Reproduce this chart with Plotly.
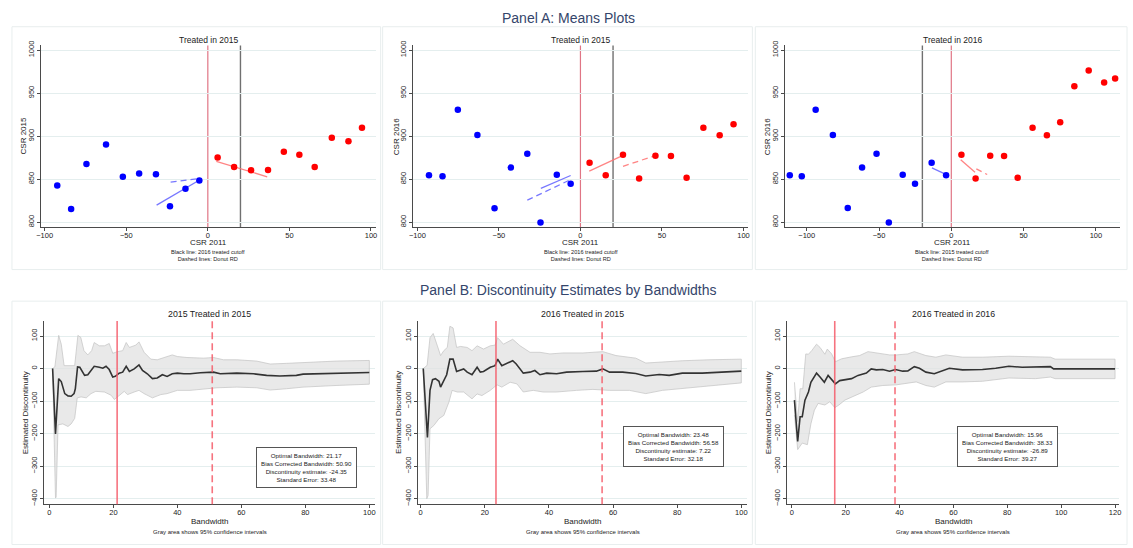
import plotly.graph_objects as go

W, H = 1133, 548

# ---------------- Panel A data ----------------
# A1: Treated in 2015, outcome CSR 2015
a1_blue_x = [-92.3, -83.8, -74.4, -62.4, -52.1, -42.1, -31.8, -23.2, -13.7, -5.2]
a1_blue_y = [842.8, 815.3, 867.7, 890.2, 852.8, 856.6, 855.8, 818.7, 839.0, 848.6]
a1_red_x = [6.0, 16.1, 26.5, 36.9, 46.6, 56.1, 65.5, 76.0, 86.2, 94.5]
a1_red_y = [875.3, 864.2, 860.4, 860.8, 881.8, 878.4, 864.2, 898.3, 894.1, 909.8]
a1_fit_blue_x = [-31.4, -5.6]
a1_fit_blue_y = [819.9, 848.5]
a1_donut_blue_x = [-22.8, -5.6]
a1_donut_blue_y = [846.7, 850.8]
a1_fit_red_x = [5.2, 36.4]
a1_fit_red_y = [870.7, 852.8]
a1_cut_other = 20

# A2: Treated in 2015, outcome CSR 2016
a2_blue_x = [-92.9, -84.6, -75.2, -63.2, -52.7, -42.7, -32.6, -24.5, -14.5, -6.0]
a2_blue_y = [854.7, 853.5, 930.8, 901.3, 816.1, 863.5, 879.5, 799.6, 855.1, 844.7]
a2_red_x = [5.6, 15.5, 26.1, 36.0, 46.0, 55.5, 65.1, 75.4, 85.4, 93.9]
a2_red_y = [869.2, 854.7, 878.4, 850.9, 877.2, 876.9, 851.6, 909.8, 901.0, 914.0]
a2_fit_blue_x = [-24.3, -6.0]
a2_fit_blue_y = [839.4, 854.3]
a2_donut_blue_x = [-32.6, -7.2]
a2_donut_blue_y = [825.6, 848.5]
a2_fit_red_x = [5.4, 26.1]
a2_fit_red_y = [859.3, 877.6]
a2_donut_red_x = [26.1, 46.2]
a2_donut_red_y = [865.0, 877.6]
a2_cut_other = 20

# A3: Treated in 2016, outcome CSR 2016
a3_blue_x = [-111.7, -103.4, -93.8, -81.9, -71.6, -61.7, -51.7, -43.2, -33.6, -25.1, -13.6, -3.6]
a3_blue_y = [854.7, 853.5, 930.8, 901.3, 816.4, 863.5, 879.5, 799.6, 855.1, 844.7, 869.2, 854.7]
a3_red_x = [7.0, 16.8, 26.9, 36.5, 45.9, 56.2, 66.1, 75.3, 85.1, 95.0, 105.7, 113.3]
a3_red_y = [878.4, 850.9, 877.2, 876.9, 851.6, 909.8, 901.0, 916.3, 957.9, 976.3, 962.5, 967.1]
a3_fit_blue_x = [-13.4, -3.4]
a3_fit_blue_y = [863.1, 855.4]
a3_fit_red_x = [6.5, 16.4]
a3_fit_red_y = [872.6, 858.2]
a3_donut_red_x = [17.3, 24.8]
a3_donut_red_y = [862.0, 855.4]
a3_cut_other = -20

a_xticks = [-100, -50, 0, 50, 100]
a_yticks = [800, 850, 900, 950, 1000]

# ---------------- Panel B data ----------------
b1_est_x = [1, 1.9, 2.9, 3.7, 4.8, 5.8, 6.8, 7.7, 8.1, 8.8, 9.5, 10.3, 11, 12, 13.2, 14, 15.6, 16.7, 17.7, 18.7,
            19.8, 20.6, 21.8, 22.9, 24, 25, 26.5, 28, 29.1, 30.6, 32.2, 33.7, 35.3, 36.8, 38.4, 40, 42, 44, 47.2,
            51.3, 53.4, 58.6, 63.8, 67.9, 72, 77.2, 79.3, 84.5, 89.6, 94.8, 100]
b1_est_y = [0, -201, -31, -40, -77, -84, -85, -77, -62, 5, 4, -11, -21, -19, -4, 7, 4, 1, 7, -3,
            -26, -24, -14, -11, 7, -9, -1, 11, -6, -16, -31, -29, -19, -24, -16, -14, -16, -16, -13,
            -11, -16, -14, -16, -21, -23, -21, -17, -16, -15, -13, -12]
b1_up_x = [1, 1.7, 2.9, 3.7, 4.6, 5.8, 7.9, 8.9, 9.8, 10.8, 12, 13.2, 14, 15.6, 17.2, 18.7, 19.8, 21.3, 22.9,
           24, 25, 27, 28, 29.6, 31.7, 33.7, 35.8, 38.4, 40, 43, 48.2, 51.3, 54.4, 58.6, 64.8, 69, 74.1, 79.3,
           84.5, 89.6, 100]
b1_up_y = [0, 5, 102, 75, 9, 9, 9, 102, 96, 55, 42, 55, 80, 70, 70, 77, 47, 52, 55,
           80, 65, 72, 82, 50, 29, 27, 34, 42, 37, 34, 32, 34, 27, 27, 23, 14, 16, 19,
           21, 23, 25]
b1_lo_x = [1, 1.9, 2.1, 2.7, 4.2, 5.8, 6.8, 7.9, 8.7, 9.9, 11.5, 13, 14.5, 17.2, 19.3, 20.3, 21.8, 23.4, 24.4,
           26.5, 28, 29.6, 32.2, 34.8, 36.8, 40, 44, 48.2, 52.4, 58.6, 64.8, 69, 74.1, 79.3, 89.6, 100]
b1_lo_y = [0, -398, -395, -173, -170, -178, -170, -153, -90, -87, -90, -77, -70, -72, -82, -95, -82, -70, -80,
           -72, -67, -77, -90, -80, -77, -67, -67, -62, -59, -57, -59, -66, -62, -57, -52, -48]

b2_est_x = [0.8, 2.1, 2.9, 3.7, 4.6, 5.7, 6.2, 7, 8.1, 9.1, 10.1, 11.2, 12.4, 13.4, 14.5, 16, 17.6, 18.6, 19.6,
            21.7, 23.2, 24, 25.3, 27.4, 28.7, 29.8, 32, 34.1, 35.6, 37.2, 39.3, 42.4, 45.5, 50.6, 54.8, 56.8,
            58.9, 63, 67.1, 70.2, 74.4, 77.5, 81.6, 87.8, 94, 100]
b2_est_y = [0, -212, -67, -34, -31, -39, -57, -42, -19, 29, 29, -9, -4, -1, -11, -19, 4, -11, -9,
            4, 9, 29, 9, 17, 24, 14, -14, -11, -6, -19, -14, -16, -11, -9, -8, -1,
            -11, -11, -15, -23, -18, -21, -14, -14, -11, -8]
b2_up_x = [0.8, 2, 2.9, 3.9, 5.2, 6.2, 7.2, 8.3, 9.1, 10.1, 11.2, 12.4, 14.5, 16, 17.6, 19.6, 21.7, 23.2, 24,
           25.8, 28.7, 31, 34.1, 37.2, 40.3, 44.4, 50.6, 56.8, 60.9, 67.1, 70.2, 75.4, 81.6, 89.9, 100]
b2_up_y = [0, 10, 95, 108, 70, 40, 55, 65, 130, 125, 65, 68, 65, 55, 70, 60, 70, 72, 95,
           75, 90, 70, 50, 50, 45, 48, 48, 52, 40, 32, 17, 21, 24, 27, 29]
b2_lo_x = [0.8, 1.9, 2.3, 2.9, 4.1, 5.7, 7.2, 8.8, 9.8, 11.4, 13.4, 16, 17.6, 19.1, 21.7, 23.8, 25.3, 27.9, 30,
           32, 35.1, 38.2, 42.4, 48.6, 53.7, 58.9, 65.1, 70.2, 75.4, 83.7, 91.9, 100]
b2_lo_y = [0, -400, -390, -185, -175, -154, -144, -103, -67, -72, -72, -93, -78, -83, -67, -50, -57, -42, -47,
           -72, -67, -72, -72, -67, -64, -67, -67, -77, -67, -60, -52, -44]

b3_est_x = [1, 2.2, 3.1, 3.9, 4.9, 6.2, 7.1, 8.4, 9.2, 10.5, 12.1, 13.5, 14.8, 16.2, 17.8, 19.7, 22.2, 24.6,
            27.7, 29.5, 31.4, 33.8, 36.3, 38.5, 41.2, 43.1, 45.5, 47.4, 49.8, 52.9, 56, 58.5, 63.4, 70.8, 75.7,
            80.6, 85.5, 90.5, 96, 97.2, 107.7, 120]
b3_est_y = [-97, -224, -148, -148, -97, -72, -42, -26, -14, -26, -42, -21, -35, -47, -37, -35, -31, -21,
            -14, -1, -4, -3, -8, -3, -8, -7, 6, 1, -11, -16, -6, 1, -4, -3, 1,
            7, 4, 4, 6, -1, -1, -1]
b3_up_x = [1, 2.2, 3.1, 4.1, 5.2, 6.2, 7.4, 9.2, 10.5, 12.3, 13.2, 14.8, 16.2, 18.5, 22.2, 25.2, 28.3, 31.4,
           36.3, 38.8, 43.1, 45.5, 49.8, 53.5, 57.2, 63.4, 70.8, 80.6, 90.5, 96, 97.8, 107.7, 120]
b3_up_y = [-42, -163, -62, -62, 45, 44, 55, 75, 65, 44, 60, 45, 21, 30, 36, 40, 52, 48,
           42, 42, 45, 52, 40, 35, 42, 35, 35, 38, 36, 35, 29, 29, 29]
b3_lo_x = [1, 2.2, 3.9, 5.8, 7.1, 8.4, 9.8, 12.3, 14.1, 16, 17.5, 19.7, 22.2, 26.5, 29.5, 33.8, 38.8, 43.7,
           46.2, 49.8, 52.9, 57.2, 63.4, 70.8, 80.6, 90.5, 96, 97.8, 107.7, 120]
b3_lo_y = [-143, -249, -229, -234, -170, -128, -107, -112, -102, -120, -112, -97, -89, -72, -57, -52, -50, -44,
           -41, -52, -57, -41, -41, -39, -29, -31, -26, -31, -31, -31]

b_opt = [21.17, 23.48, 15.96]
b_bias = [50.90, 56.58, 38.33]
b_est = ["-24.35", "7.22", "-26.89"]
b_se = ["33.48", "32.18", "39.27"]
b_titles = ["2015 Treated in 2015", "2016 Treated in 2015", "2016 Treated in 2016"]
b_yticks = [-400, -300, -200, -100, 0, 100]
b_xticks12 = [0, 20, 40, 60, 80, 100]
b_xticks3 = [0, 20, 40, 60, 80, 100, 120]

a_titles = ["Treated in 2015", "Treated in 2015", "Treated in 2016"]
a_ylabels = ["CSR 2015", "CSR 2016", "CSR 2016"]
a_notes = ["Black line: 2016 treated cutoff", "Black line: 2016 treated cutoff", "Black line: 2015 treated cutoff"]

# ---------------- layout geometry (pixels) ----------------
def px(v): return v / W
def py(v): return 1 - v / H

FONT = "Liberation Sans, Arial, sans-serif"
AXC = "#4a4a4a"
GRID = "#e4eeee"

fig = go.Figure()

a_dom_x = [(36, 373), (410.7, 747.5), (785, 1121.7)]
a_rng_x = [(-102.4, 102.9), (-102.6, 102.7), (-114.9, 116.5)]
a_dom_y = (41, 225)
a_rng_y = (794.3, 1005.4)

b_dom_x = [(39.7, 372.7), (415.7, 746.7), (787.3, 1121)]
b_rng_x = [(-1.55, 101.9), (-0.8, 101.8), (-1.6, 121.5)]
b_dom_y = (320, 505.7)
b_rng_y = (-417, 146.5)

layout = dict(width=W, height=H, margin=dict(l=0, r=0, t=0, b=0), paper_bgcolor="white",
              plot_bgcolor="white", showlegend=False, font=dict(family=FONT, color="#222"))

def xaxis_cfg(dom, rng, ticks, anchor):
    return dict(domain=[px(dom[0]), px(dom[1])], range=list(rng), tickmode="array", tickvals=ticks,
                showline=True, linecolor=AXC, linewidth=1, ticks="outside", ticklen=3, tickcolor=AXC,
                ticklabelstandoff=-2,
                tickfont=dict(size=7.5, color="#222"), showgrid=False, zeroline=False, anchor=anchor)

def yaxis_cfg(dom, rng, ticks, anchor):
    return dict(domain=[py(dom[1]), py(dom[0])], range=list(rng), tickmode="array", tickvals=ticks,
                showline=True, linecolor=AXC, linewidth=1, ticks="outside", ticklen=3, tickcolor=AXC,
                tickangle=-90, tickfont=dict(size=7.5, color="#222"), showgrid=True, gridcolor=GRID,
                gridwidth=1, zeroline=False, anchor=anchor)

shapes = []
annotations = []

def ax_names(i):
    s = "" if i == 1 else str(i)
    return "x" + s, "y" + s, "xaxis" + s, "yaxis" + s

# Panel A
a_sets = [
    (a1_blue_x, a1_blue_y, a1_red_x, a1_red_y, [(a1_fit_blue_x, a1_fit_blue_y, "solid", "b"),
                                               (a1_donut_blue_x, a1_donut_blue_y, "dash", "b"),
                                               (a1_fit_red_x, a1_fit_red_y, "solid", "r")], a1_cut_other),
    (a2_blue_x, a2_blue_y, a2_red_x, a2_red_y, [(a2_fit_blue_x, a2_fit_blue_y, "solid", "b"),
                                               (a2_donut_blue_x, a2_donut_blue_y, "dash", "b"),
                                               (a2_fit_red_x, a2_fit_red_y, "solid", "r"),
                                               (a2_donut_red_x, a2_donut_red_y, "dash", "r")], a2_cut_other),
    (a3_blue_x, a3_blue_y, a3_red_x, a3_red_y, [(a3_fit_blue_x, a3_fit_blue_y, "solid", "b"),
                                               (a3_fit_red_x, a3_fit_red_y, "solid", "r"),
                                               (a3_donut_red_x, a3_donut_red_y, "dash", "r")], a3_cut_other),
]

for k, (bx, by, rx, ry, fits, cut) in enumerate(a_sets):
    i = k + 1
    xn, yn, xk, yk = ax_names(i)
    layout[xk] = xaxis_cfg(a_dom_x[k], a_rng_x[k], a_xticks, yn)
    layout[yk] = yaxis_cfg(a_dom_y, a_rng_y, a_yticks, xn)
    # vertical lines
    shapes.append(dict(type="line", xref=xn, yref=yn + " domain", x0=0, x1=0, y0=0, y1=1,
                       line=dict(color="#e07585", width=1.2), layer="below"))
    shapes.append(dict(type="line", xref=xn, yref=yn + " domain", x0=cut, x1=cut, y0=0, y1=1,
                       line=dict(color="#707070", width=1.4), layer="below"))
    for fx, fy, dash, col in fits:
        c = "rgba(95,95,255,0.85)" if col == "b" else "rgba(255,110,110,0.85)"
        fig.add_trace(go.Scatter(x=fx, y=fy, mode="lines", xaxis=xn, yaxis=yn,
                                 line=dict(color=c, width=1.3, dash="6px,4px" if dash == "dash" else "solid")))
    fig.add_trace(go.Scatter(x=bx, y=by, mode="markers", xaxis=xn, yaxis=yn,
                             marker=dict(color="#0000ff", size=6.5, line=dict(width=0))))
    fig.add_trace(go.Scatter(x=rx, y=ry, mode="markers", xaxis=xn, yaxis=yn,
                             marker=dict(color="#ff0000", size=6.5, line=dict(width=0))))
    cx = (a_dom_x[k][0] + a_dom_x[k][1]) / 2
    annotations.append(dict(text=a_titles[k], x=px(cx), y=py(35), xref="paper", yref="paper",
                            showarrow=False, font=dict(size=8.5, color="#222"), xanchor="center", yanchor="middle"))
    annotations.append(dict(text="CSR 2011", x=px(cx), y=py(241), xref="paper", yref="paper",
                            showarrow=False, font=dict(size=8, color="#222"), xanchor="center", yanchor="middle"))
    annotations.append(dict(text=a_notes[k] + "<br>Dashed lines: Donut RD", x=px(cx), y=py(254), xref="paper",
                            yref="paper", showarrow=False, font=dict(size=5.6, color="#222"),
                            xanchor="center", yanchor="middle"))
    yl_x = [18.3, 393.3, 766.7][k]
    annotations.append(dict(text=a_ylabels[k], x=px(yl_x), y=py(133), xref="paper", yref="paper",
                            showarrow=False, textangle=-90, font=dict(size=8, color="#222"),
                            xanchor="center", yanchor="middle"))

# Panel B
b_sets = [(b1_est_x, b1_est_y, b1_up_x, b1_up_y, b1_lo_x, b1_lo_y, b_xticks12),
          (b2_est_x, b2_est_y, b2_up_x, b2_up_y, b2_lo_x, b2_lo_y, b_xticks12),
          (b3_est_x, b3_est_y, b3_up_x, b3_up_y, b3_lo_x, b3_lo_y, b_xticks3)]
b_box_pos = [(80.5, -303), (78.8, -241), (80, -241)]

for k, (ex, ey, ux, uy, lx, ly, xt) in enumerate(b_sets):
    i = k + 4
    xn, yn, xk, yk = ax_names(i)
    layout[xk] = xaxis_cfg(b_dom_x[k], b_rng_x[k], xt, yn)
    layout[yk] = yaxis_cfg(b_dom_y, b_rng_y, b_yticks, xn)
    fig.add_trace(go.Scatter(x=list(ux) + list(lx)[::-1], y=list(uy) + list(ly)[::-1], mode="lines",
                             fill="toself", fillcolor="rgba(225,225,225,0.75)",
                             line=dict(color="rgba(195,195,195,0.9)", width=0.8), xaxis=xn, yaxis=yn))
    fig.add_trace(go.Scatter(x=ex, y=ey, mode="lines", xaxis=xn, yaxis=yn,
                             line=dict(color="#333333", width=1.6)))
    shapes.append(dict(type="line", xref=xn, yref=yn + " domain", x0=b_opt[k], x1=b_opt[k], y0=0, y1=1,
                       line=dict(color="rgba(245,90,105,0.85)", width=1.6)))
    shapes.append(dict(type="line", xref=xn, yref=yn + " domain", x0=b_bias[k], x1=b_bias[k], y0=0, y1=1,
                       line=dict(color="rgba(245,90,105,0.85)", width=1.6, dash="7px,4px")))
    cx = (b_dom_x[k][0] + b_dom_x[k][1]) / 2
    annotations.append(dict(text=b_titles[k], x=px(cx), y=py(313), xref="paper", yref="paper",
                            showarrow=False, font=dict(size=8.8, color="#222"), xanchor="center", yanchor="middle"))
    annotations.append(dict(text="Bandwidth", x=px(cx), y=py(523), xref="paper", yref="paper",
                            showarrow=False, font=dict(size=8, color="#222"), xanchor="center", yanchor="middle"))
    annotations.append(dict(text="Gray area shows 95% confidence intervals", x=px(cx), y=py(534), xref="paper",
                            yref="paper", showarrow=False, font=dict(size=6, color="#222"),
                            xanchor="center", yanchor="middle"))
    yl_x = [20.7, 395.7, 768.3][k]
    annotations.append(dict(text="Estimated Discontinuity", x=px(yl_x), y=py(413), xref="paper", yref="paper",
                            showarrow=False, textangle=-90, font=dict(size=8, color="#222"),
                            xanchor="center", yanchor="middle"))
    box_txt = ("Optimal Bandwidth: %.2f<br>Bias Corrected Bandwidth: %.2f<br>Discontinuity estimate: %s"
               "<br>Standard Error: %s") % (b_opt[k], b_bias[k], b_est[k], b_se[k])
    bx, by = b_box_pos[k]
    annotations.append(dict(text=box_txt, x=bx, y=by, xref=xn, yref=yn, showarrow=False,
                            font=dict(size=6.2, color="#222"), bordercolor="#555", borderwidth=1, borderpad=4,
                            bgcolor="white", xanchor="center", yanchor="middle"))

# panel frames
for (x0, x1) in [(7, 378), (380, 752), (755, 1129)]:
    shapes.append(dict(type="rect", xref="paper", yref="paper", x0=px(x0), x1=px(x1), y0=py(268), y1=py(22),
                       line=dict(color="#e8eeee", width=1), layer="below"))
    shapes.append(dict(type="rect", xref="paper", yref="paper", x0=px(x0), x1=px(x1), y0=py(546.5), y1=py(300),
                       line=dict(color="#e8eeee", width=1), layer="below"))

annotations.append(dict(text="Panel A: Means Plots", x=0.5, y=py(13), xref="paper", yref="paper",
                        showarrow=False, font=dict(size=14, color="#34456b"), xanchor="center", yanchor="middle"))
annotations.append(dict(text="Panel B: Discontinuity Estimates by Bandwidths", x=0.5, y=py(289), xref="paper",
                        yref="paper", showarrow=False, font=dict(size=14, color="#34456b"),
                        xanchor="center", yanchor="middle"))

layout["shapes"] = shapes
layout["annotations"] = annotations
fig.update_layout(**layout)
fig.write_html("out.html")
